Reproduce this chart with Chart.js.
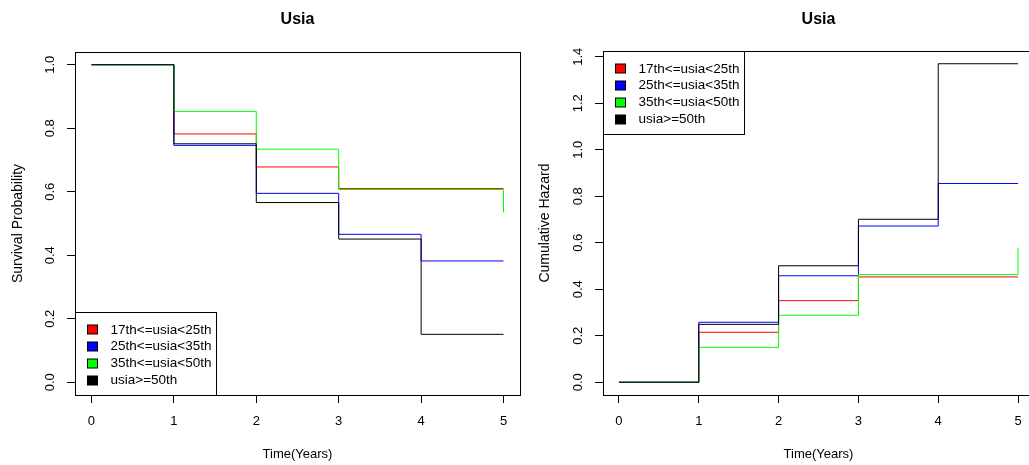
<!DOCTYPE html>
<html>
<head>
<meta charset="utf-8">
<script src="https://cdn.jsdelivr.net/npm/chart.js@4.4.0/dist/chart.umd.min.js"></script>
<style>
  html, body { margin: 0; padding: 0; background: #fff; overflow: hidden; }
  body { width: 1029px; height: 465px; position: relative; }
  canvas { position: absolute; top: 0; }
  #survivalChart { left: 0; }
  #hazardChart { left: 520px; }
</style>
</head>
<body>
<canvas id="survivalChart" width="530" height="465"></canvas>
<canvas id="hazardChart" width="530" height="465"></canvas>
<script>
const plotTitle = 'Usia';
const xTitle = 'Time(Years)';
const groups = ['17th<=usia<25th', '25th<=usia<35th', '35th<=usia<50th', 'usia>=50th'];
const groupColors = ['#ff0000', '#0000ff', '#00ff00', '#000000'];
const times = [0, 1, 2, 3, 4, 5];
const xTicks = [0, 1, 2, 3, 4, 5];

// Kaplan-Meier survival, one row per group
const survival = [
  [1.0, 0.782, 0.678, 0.610, 0.610, 0.610],
  [1.0, 0.746, 0.595, 0.466, 0.382, 0.382],
  [1.0, 0.853, 0.734, 0.607, 0.607, 0.535],
  [1.0, 0.751, 0.566, 0.451, 0.151, 0.151]
];
const survTicks = [0, 0.2, 0.4, 0.6, 0.8, 1.0];

// cumulative hazard, one row per group
const hazard = [
  [0, 0.215, 0.351, 0.453, 0.453, 0.453],
  [0, 0.258, 0.458, 0.672, 0.855, 0.855],
  [0, 0.150, 0.288, 0.463, 0.463, 0.579],
  [0, 0.249, 0.501, 0.701, 1.370, 1.370]
];
const hazTicks = [0, 0.2, 0.4, 0.6, 0.8, 1.0, 1.2, 1.4];

const FONT = '"Liberation Sans", Arial, sans-serif';

// box round the plot + main title
const frame = {
  id: 'frame',
  afterDraw(chart) {
    const { ctx, chartArea: a } = chart;
    ctx.save();
    ctx.strokeStyle = '#000';
    ctx.lineWidth = 1;
    ctx.strokeRect(Math.round(a.left) + 0.5, Math.round(a.top) + 0.5,
      Math.round(a.right - a.left), Math.round(a.bottom - a.top));
    ctx.fillStyle = '#000';
    ctx.font = 'bold 16px ' + FONT;
    ctx.textAlign = 'center';
    ctx.textBaseline = 'middle';
    ctx.fillText(plotTitle, (a.left + a.right) / 2, 20);
    ctx.restore();
  }
};

// R style legend with filled squares
const legendBox = {
  id: 'legendBox',
  afterDraw(chart, args, opts) {
    const { ctx, chartArea: a } = chart;
    ctx.save();
    ctx.font = '13.5px ' + FONT;
    const textW = Math.max(...groups.map(g => ctx.measureText(g).width));
    const w = Math.round(35 + textW + 5);
    const h = 83;
    const x = Math.round(a.left) + 0.5;
    const y = opts.corner === 'bottomleft' ? Math.round(a.bottom) - h + 0.5 : Math.round(a.top) + 0.5;
    ctx.fillStyle = '#fff';
    ctx.fillRect(x, y, w, h);
    ctx.strokeStyle = '#000';
    ctx.lineWidth = 1;
    ctx.strokeRect(x, y, w, h);
    ctx.textBaseline = 'middle';
    groups.forEach((g, i) => {
      const cy = y + 17.3 + i * 16.8;
      ctx.fillStyle = groupColors[i];
      ctx.fillRect(x + 12, Math.round(cy - 4.5), 10, 9);
      ctx.strokeStyle = '#000';
      ctx.strokeRect(x + 12, Math.round(cy - 4.5), 10, 9);
      ctx.fillStyle = '#000';
      ctx.fillText(g, x + 35, cy);
    });
    ctx.restore();
  }
};

function makeStepChart(canvasId, series, yTitle, yMin, yMax, yTicks, cfg) {
  const ctx = document.getElementById(canvasId);
  return new Chart(ctx, {
    type: 'line',
    data: {
      datasets: groups.map((g, i) => ({
        label: g,
        data: times.map((t, j) => ({ x: t, y: series[i][j] })),
        borderColor: groupColors[i],
        borderWidth: 1,
        pointRadius: 0,
        stepped: true,
        fill: false,
        order: groups.length - 1 - i
      }))
    },
    options: {
      responsive: false,
      animation: false,
      events: [],
      layout: { padding: { top: cfg.top, right: cfg.right, left: 0, bottom: 0 } },
      plugins: {
        legend: { display: false },
        tooltip: { enabled: false },
        legendBox: { corner: cfg.corner }
      },
      scales: {
        x: {
          type: 'linear',
          min: -0.2,
          max: 5.2,
          afterBuildTicks: s => { s.ticks = xTicks.map(v => ({ value: v })); },
          afterFit: s => { s.height = 70; },
          grid: { display: true, drawOnChartArea: false, drawTicks: true, tickLength: 8, color: '#000', lineWidth: 1 },
          border: { display: false },
          ticks: { color: '#000', font: { family: FONT, size: 13 }, padding: 11, maxRotation: 0, autoSkip: false },
          title: { display: true, text: xTitle, color: '#000', font: { family: FONT, size: 13, lineHeight: 1.2 }, padding: { top: 0, bottom: 3 } }
        },
        y: {
          min: yMin,
          max: yMax,
          afterBuildTicks: s => { s.ticks = yTicks.map(v => ({ value: v })); },
          afterFit: s => { s.width = cfg.yWidth; },
          grid: { display: true, drawOnChartArea: false, drawTicks: true, tickLength: 8, color: '#000', lineWidth: 1 },
          border: { display: false },
          ticks: {
            color: '#000', font: { family: FONT, size: 13 }, padding: 8,
            minRotation: 90, maxRotation: 90, crossAlign: 'center', autoSkip: false,
            callback: v => v.toFixed(1)
          },
          title: { display: true, text: yTitle, color: '#000', font: { family: FONT, size: 14, lineHeight: 1.2 }, padding: { top: cfg.titlePad, bottom: 0 } }
        }
      }
    },
    plugins: [frame, legendBox]
  });
}

makeStepChart('survivalChart', survival, 'Survival Probability', -0.04, 1.04, survTicks,
  { top: 52, right: 10, yWidth: 75, titlePad: 9.5, corner: 'bottomleft' });
makeStepChart('hazardChart', hazard, 'Cumulative Hazard', -0.0548, 1.4248, hazTicks,
  { top: 51, right: 16, yWidth: 83, titlePad: 17, corner: 'topleft' });
</script>
</body>
</html>
